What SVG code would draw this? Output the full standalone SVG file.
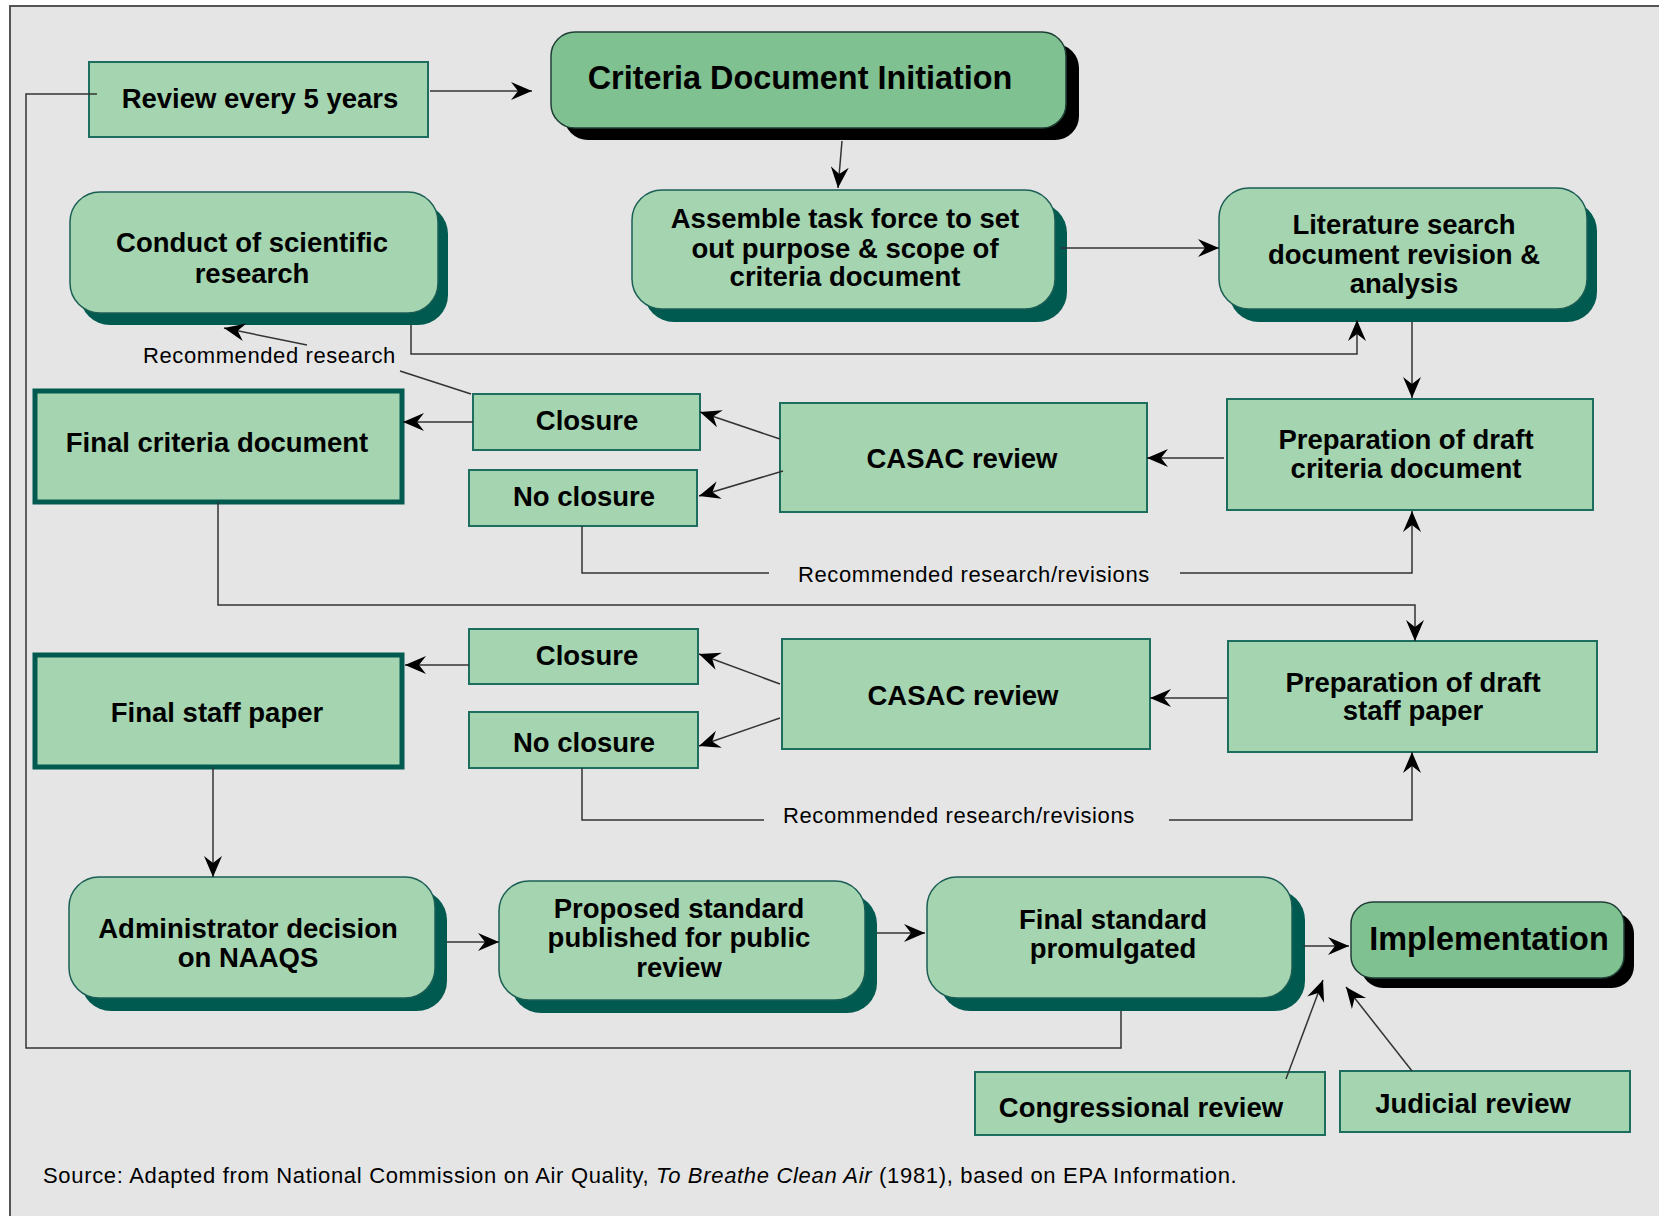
<svg xmlns="http://www.w3.org/2000/svg" width="1659" height="1216" viewBox="0 0 1659 1216">
<style>
.lt{fill:#a5d4b0;stroke:#1e6e60;stroke-width:2}
.rl{fill:#a5d4b0;stroke:#1b5e55;stroke-width:1.5}
.dk{fill:#80c192;stroke:#1f3f35;stroke-width:1.5}
.sh{fill:#005a50}
.shb{fill:#000}
.thick{fill:#a5d4b0;stroke:#005a50;stroke-width:5}
.t{font-family:"Liberation Sans",Arial,sans-serif;font-weight:bold;font-size:27.5px;fill:#000;text-anchor:middle}
.tb{font-family:"Liberation Sans",Arial,sans-serif;font-weight:bold;font-size:32.4px;fill:#000;text-anchor:middle}
.lab{font-family:"Liberation Sans",Arial,sans-serif;font-size:22px;letter-spacing:0.6px;fill:#000}
.src{letter-spacing:0.68px}
.c{fill:none;stroke:#333;stroke-width:1.5}
.a{marker-end:url(#ah)}
</style>
<defs>
<marker id="ah" markerUnits="userSpaceOnUse" viewBox="-21 -10 22 20" refX="0" refY="0" markerWidth="22" markerHeight="20" orient="auto">
<path d="M0,0 L-21,-9 L-14,0 L-21,9 Z" fill="#000"/>
</marker>
</defs>
<rect x="0" y="0" width="1659" height="1216" fill="#ffffff"/>
<rect x="10" y="6" width="1649" height="1210" fill="#e5e5e5"/>
<path d="M10,1216 V6 H1659" fill="none" stroke="#555" stroke-width="2"/>

<g id="review">
<rect class="lt" x="89" y="62" width="339" height="75"/>
<text class="t" x="260" y="108">Review every 5 years</text>
</g>
<g id="cdi">
<rect class="shb" x="564" y="44" width="515" height="96" rx="24"/>
<rect class="dk" x="551" y="32" width="515" height="96" rx="24"/>
<text class="tb" x="800" y="89">Criteria Document Initiation</text>
</g>
<g id="conduct">
<rect class="sh" x="80" y="204" width="368" height="121" rx="30"/>
<rect class="rl" x="70" y="192" width="368" height="121" rx="30"/>
<text class="t" x="252" y="252">Conduct of scientific</text>
<text class="t" x="252" y="283">research</text>
</g>
<g id="assemble">
<rect class="sh" x="644" y="203" width="423" height="119" rx="30"/>
<rect class="rl" x="632" y="190" width="423" height="119" rx="30"/>
<text class="t" x="845" y="228">Assemble task force to set</text>
<text class="t" x="845" y="258">out purpose &amp; scope of</text>
<text class="t" x="845" y="286">criteria document</text>
</g>
<g id="literature">
<rect class="sh" x="1229" y="201" width="368" height="121" rx="30"/>
<rect class="rl" x="1219" y="188" width="368" height="121" rx="30"/>
<text class="t" x="1404" y="234">Literature search</text>
<text class="t" x="1404" y="264">document revision &amp;</text>
<text class="t" x="1404" y="293">analysis</text>
</g>
<g id="prep_cd">
<rect class="lt" x="1227" y="399" width="366" height="111"/>
<text class="t" x="1406" y="449">Preparation of draft</text>
<text class="t" x="1406" y="478">criteria document</text>
</g>
<g id="casac1">
<rect class="lt" x="780" y="403" width="367" height="109"/>
<text class="t" x="962" y="468">CASAC review</text>
</g>
<g id="final_cd">
<rect class="thick" x="35" y="391" width="367" height="111"/>
<text class="t" x="217" y="452">Final criteria document</text>
</g>
<g id="closure1">
<rect class="lt" x="473" y="394" width="227" height="56"/>
<text class="t" x="587" y="430">Closure</text>
</g>
<g id="noclosure1">
<rect class="lt" x="469" y="470" width="228" height="56"/>
<text class="t" x="584" y="506">No closure</text>
</g>
<g id="closure2">
<rect class="lt" x="469" y="629" width="229" height="55"/>
<text class="t" x="587" y="665">Closure</text>
</g>
<g id="noclosure2">
<rect class="lt" x="469" y="712" width="229" height="56"/>
<text class="t" x="584" y="752">No closure</text>
</g>
<g id="final_sp">
<rect class="thick" x="35" y="655" width="367" height="112"/>
<text class="t" x="217" y="722">Final staff paper</text>
</g>
<g id="casac2">
<rect class="lt" x="782" y="639" width="368" height="110"/>
<text class="t" x="963" y="705">CASAC review</text>
</g>
<g id="prep_sp">
<rect class="lt" x="1228" y="641" width="369" height="111"/>
<text class="t" x="1413" y="692">Preparation of draft</text>
<text class="t" x="1413" y="720">staff paper</text>
</g>
<g id="admin">
<rect class="sh" x="81" y="890" width="366" height="121" rx="30"/>
<rect class="rl" x="69" y="877" width="366" height="121" rx="30"/>
<text class="t" x="248" y="938">Administrator decision</text>
<text class="t" x="248" y="967">on NAAQS</text>
</g>
<g id="proposed">
<rect class="sh" x="511" y="894" width="366" height="119" rx="30"/>
<rect class="rl" x="499" y="881" width="366" height="119" rx="30"/>
<text class="t" x="679" y="918">Proposed standard</text>
<text class="t" x="679" y="947">published for public</text>
<text class="t" x="679" y="977">review</text>
</g>
<g id="final_std">
<rect class="sh" x="940" y="890" width="365" height="121" rx="30"/>
<rect class="rl" x="927" y="877" width="365" height="121" rx="30"/>
<text class="t" x="1113" y="929">Final standard</text>
<text class="t" x="1113" y="958">promulgated</text>
</g>
<g id="impl">
<rect class="shb" x="1361" y="912" width="273" height="76" rx="22"/>
<rect class="dk" x="1351" y="902" width="273" height="76" rx="22"/>
<text class="tb" x="1489" y="950">Implementation</text>
</g>
<g id="congress">
<rect class="lt" x="975" y="1072" width="350" height="63"/>
<text class="t" x="1141" y="1117">Congressional review</text>
</g>
<g id="judicial">
<rect class="lt" x="1340" y="1071" width="290" height="61"/>
<text class="t" x="1473" y="1113">Judicial review</text>
</g>

<g id="connectors">
<path class="c a" d="M430,91 H532"/>
<path class="c a" d="M842,141 L838,188"/>
<path class="c a" d="M1061,248 H1219"/>
<path class="c a" d="M411,325 V354 H1357 V320"/>
<path class="c a" d="M1412,322 V398"/>
<path class="c a" d="M1224,458 H1147"/>
<path class="c a" d="M780,439 L700,412"/>
<path class="c a" d="M783,471 L699,496"/>
<path class="c a" d="M473,422 H403"/>
<path class="c" d="M471,394 L400,371"/>
<path class="c a" d="M307,345 L224,328"/>
<path class="c" d="M582,526 V573 H769"/>
<path class="c a" d="M1180,573 H1412 V511"/>
<path class="c a" d="M218,502 V605 H1415 V641"/>
<path class="c a" d="M1227,698 H1150"/>
<path class="c a" d="M780,684 L699,654"/>
<path class="c a" d="M780,718 L699,746"/>
<path class="c a" d="M469,665 H405"/>
<path class="c" d="M582,768 V820 H764"/>
<path class="c a" d="M1169,820 H1412 V752"/>
<path class="c a" d="M213,767 V877"/>
<path class="c a" d="M447,942 H499"/>
<path class="c a" d="M877,933 H925"/>
<path class="c a" d="M1303,946 H1349"/>
<path class="c a" d="M1286,1079 L1323,980"/>
<path class="c a" d="M1412,1071 L1346,987"/>
<path class="c" d="M1121,1011 V1048 H26 V94 H97"/>
</g>

<g id="labels">
<text class="lab" x="143" y="363">Recommended research</text>
<text class="lab" x="798" y="582">Recommended research/revisions</text>
<text class="lab" x="783" y="823">Recommended research/revisions</text>
<text class="lab src" x="43" y="1183">Source: Adapted from National Commission on Air Quality, <tspan font-style="italic">To Breathe Clean Air</tspan> (1981), based on EPA Information.</text>
</g>
</svg>
